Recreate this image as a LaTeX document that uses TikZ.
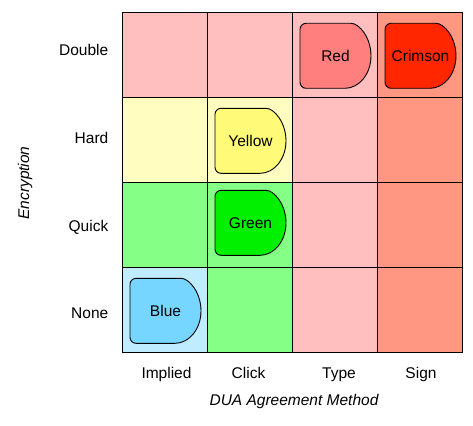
\documentclass[tikz,border=0pt]{standalone}
\usepackage{fontspec}
\setmainfont{Liberation Sans}
\definecolor{cpink}{HTML}{FFBFBF}
\definecolor{csalmon}{HTML}{FF9782}
\definecolor{cyel}{HTML}{FFFDBF}
\definecolor{cgrn}{HTML}{86FF86}
\definecolor{cblu}{HTML}{C0ECFF}
\definecolor{sred}{HTML}{FF7F7F}
\definecolor{scrim}{HTML}{FF2600}
\definecolor{syel}{HTML}{FFFB78}
\definecolor{sgrn}{HTML}{00F000}
\definecolor{sblu}{HTML}{76D6FF}
\newcommand\mydshape[4]{%
  \begin{scope}[shift={#1}]
    \filldraw[shapeline, fill=#2] (45,65) [rounded corners=6pt] -- (0,65) -- (0,0) -- (45,0) [sharp corners]
      .. controls (59.36,0) and (71,14.55) .. (71,32.5)
      .. controls (71,50.45) and (59.36,65) .. cycle;
    \node[lbl] (#3) at (35.5,32.5) {#4};
  \end{scope}}
\begin{document}
\begin{tikzpicture}[x=1pt,y=-1pt,
  lbl/.style={font=\fontsize{15.5}{18}\selectfont, inner sep=0pt},
  axis/.style={font=\fontsize{15.5}{18}\selectfont\itshape, inner sep=0pt},
  shapeline/.style={draw=black, line width=0.9pt},
  gridline/.style={draw=black, line width=1.1pt}]
\useasboundingbox (0,0) rectangle (473,425);
% cells: columns x0 = 122.5 + 85*i, rows y0 = 12.5 + 85*j
\fill[cpink] (122.5,12.5) rectangle (377.5,97.5);
\fill[csalmon] (377.5,12.5) rectangle (462.5,352.5);
\fill[cyel] (122.5,97.5) rectangle (292.5,182.5);
\fill[cpink] (292.5,97.5) rectangle (377.5,352.5);
\fill[cgrn] (122.5,182.5) rectangle (292.5,267.5);
\fill[cgrn] (207.5,267.5) rectangle (292.5,352.5);
\fill[cblu] (122.5,267.5) rectangle (207.5,352.5);
% grid
\foreach \i in {0,1,2,3,4} {
  \draw[gridline] ({122.5+85*\i},12.5) -- ({122.5+85*\i},352.5);
  \draw[gridline] (122.5,{12.5+85*\i}) -- (462.5,{12.5+85*\i});
}
% shapes
\mydshape{(300,23.3)}{sred}{red}{Red}
\mydshape{(385,23.3)}{scrim}{crimson}{Crimson}
\mydshape{(215,108.3)}{syel}{yellow}{Yellow}
\mydshape{(215,190.3)}{sgrn}{green}{Green}
\mydshape{(130,278.3)}{sblu}{blue}{Blue}
% row labels
\node[lbl, anchor=base east] (double) at (108.5,55.5) {Double};
\node[lbl, anchor=base east] (hard) at (108.5,143.3) {Hard};
\node[lbl, anchor=base east] (quick) at (108.5,231.5) {Quick};
\node[lbl, anchor=base east] (none) at (108.5,318.3) {None};
% column labels
\node[lbl, anchor=base] (implied) at (166.5,378.5) {Implied};
\node[lbl, anchor=base] (click) at (248.5,378.5) {Click};
\node[lbl, anchor=base] (type) at (339,378.5) {Type};
\node[lbl, anchor=base] (sign) at (421,378.5) {Sign};
% axis titles
\node[axis, anchor=base] (xtitle) at (294,405) {DUA Agreement Method};
\node[axis, rotate=90] (ytitle) at (25,183) {Encryption};
\end{tikzpicture}
\end{document}
